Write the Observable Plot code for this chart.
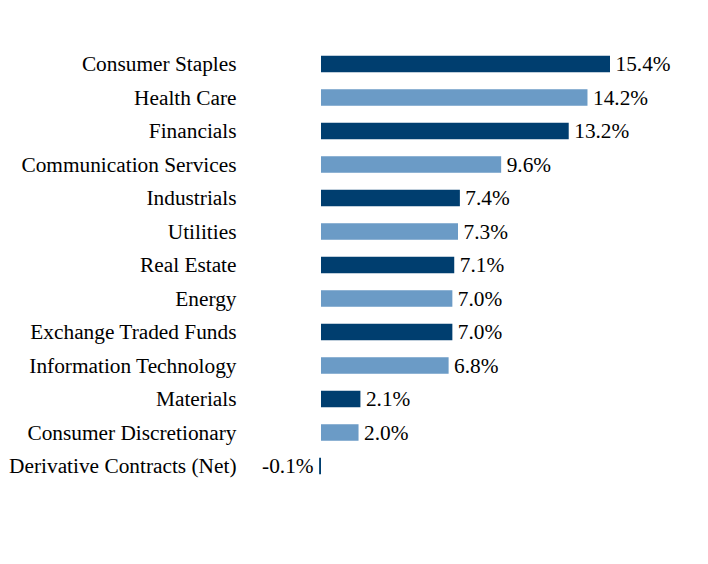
<!DOCTYPE html>
<html><head><meta charset="utf-8">
<script src="https://cdn.jsdelivr.net/npm/d3@7"></script>
<script src="https://cdn.jsdelivr.net/npm/@observablehq/plot@0.6"></script>
<style>body{margin:0;background:#fff;} svg{display:block;}</style>
</head><body><div id="chart"></div>
<script>
const categories = ["Consumer Staples","Health Care","Financials","Communication Services","Industrials","Utilities","Real Estate","Energy","Exchange Traded Funds","Information Technology","Materials","Consumer Discretionary","Derivative Contracts (Net)"];
const values = [15.4,14.2,13.2,9.6,7.4,7.3,7.1,7.0,7.0,6.8,2.1,2.0,-0.1];
const colors = ["#003e6f","#6b9bc6"];
const data = categories.map((c,i)=>({category:c,value:values[i],shade:i%2}));
const font = "'Liberation Serif', 'Times New Roman', serif";
const chart = Plot.plot({
  width:708, height:564,
  marginLeft:321, marginRight:98, marginTop:39, marginBottom:73,
  style:{fontFamily:font, fontSize:"21.33px", color:"#000", background:"#fff"},
  x:{domain:[0,15.4], axis:null},
  y:{domain:categories, paddingInner:0.5075, paddingOuter:0.5, round:false, label:null, tickSize:0, tickPadding:85},
  marks:[
    Plot.barX(data,{x:"value", y:"category", fill:d=>colors[d.shade]}),
    Plot.text(data.filter(d=>d.value>=0),{x:"value", y:"category", text:d=>d.value.toFixed(1)+"%", textAnchor:"start", dx:5, fontSize:21.33, fill:"#000"}),
    Plot.text(data.filter(d=>d.value<0),{x:"value", y:"category", text:d=>d.value.toFixed(1)+"%", textAnchor:"end", dx:-6, fontSize:21.33, fill:"#000"})
  ]
});
document.getElementById("chart").append(chart);
</script></body></html>
